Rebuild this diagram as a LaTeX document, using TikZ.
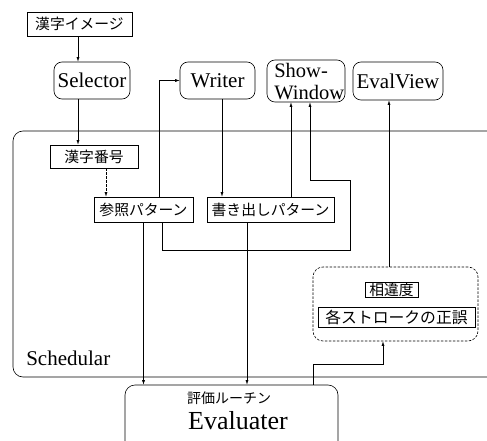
\documentclass[tikz,border=0pt]{standalone}
\usepackage{fontspec}
\setmainfont{Liberation Serif}
\newfontfamily\jp{Noto Sans CJK JP}
\usetikzlibrary{arrows.meta,calc}
\begin{document}
\begin{tikzpicture}[x=1pt,y=-1pt,line width=0.6pt,
  jbox/.style={draw, rectangle, inner sep=0pt, font=\jp\fontsize{14.8}{15}\selectfont},
  rbox/.style={draw, rounded corners=8pt, inner sep=0pt, font=\fontsize{21}{22}\selectfont},
  arr/.style={-{Latex[length=4.5pt,width=3pt]}},
  dashline/.style={dash pattern=on 2.5pt off 1.5pt}]
\clip (0,0) rectangle (487,441);
% nodes
\node[jbox, minimum width=105pt, minimum height=24pt] (img) at (79.5,24) {漢字イメージ};
\node[rbox, minimum width=76pt, minimum height=37pt] (sel) at (92,80.5) {Selector};
\node[rbox, minimum width=75pt, minimum height=37pt] (wri) at (217.5,80.5) {Writer};
\node[rbox, minimum width=78pt, minimum height=42pt] (show) at (306,81) {};
\node[anchor=north west, align=left, inner sep=0pt, font=\fontsize{20.5}{22}\selectfont] (showtxt) at (274,63) {Show-\\Window};
\node[rbox, minimum width=90pt, minimum height=38pt] (ev) at (398,81) {EvalView};
\node[draw, rounded corners=10pt, minimum width=520pt, minimum height=246pt, inner sep=0pt] (sched) at (273,254) {};
\node[anchor=west, inner sep=0pt, font=\fontsize{21}{22}\selectfont] (schedtxt) at (26,358) {Schedular};
\node[jbox, minimum width=88pt, minimum height=23pt] (num) at (94,156.5) {漢字番号};
\node[jbox, minimum width=99pt, minimum height=25pt] (ref) at (143.5,209.5) {参照パターン};
\node[jbox, minimum width=127pt, minimum height=25pt] (out) at (270.5,209.5) {書き出しパターン};
\node[draw, dashline, rounded corners=10pt, minimum width=165pt, minimum height=74pt, inner sep=0pt] (dbox) at (395.5,304) {};
\node[jbox, minimum width=53pt, minimum height=15pt] (diff) at (391.5,289.5) {相違度};
\node[jbox, minimum width=157pt, minimum height=20pt, font=\jp\fontsize{15.8}{16}\selectfont] (err) at (396.5,317) {各ストロークの正誤};
\node[draw, rounded corners=10pt, minimum width=213pt, minimum height=100pt, inner sep=0pt] (eval) at (231.5,435) {};
\node[inner sep=0pt, font=\jp\fontsize{14}{15}\selectfont] (evj) at (229,398) {評価ルーチン};
\node[inner sep=0pt, font=\fontsize{26}{28}\selectfont] (evt) at (238,421) {Evaluater};
% connectors
\draw[arr] ([xshift=-1.5pt]img.south) -- ([xshift=-1.5pt]img.south |- sel.north);
\draw[arr] ([xshift=-14pt]sel.south) -- ([xshift=-14pt]sel.south |- num.north);
\draw[arr, dashline] ([xshift=12pt]num.south) -- ([xshift=12pt]num.south |- ref.north);
\draw[arr] ([xshift=15.5pt]ref.north) |- (wri.west);
\draw[arr] ([xshift=4.5pt]wri.south) -- ([xshift=4.5pt]wri.south |- out.north);
\draw[arr] ([xshift=20.5pt]out.north) -- ([xshift=20.5pt]out.north |- show.south);
\draw[arr] ([xshift=18.5pt]ref.south) -- ++(0,28) -- ++(188,0) -- ++(0,-70) -| ([xshift=4pt]show.south);
\draw[arr] (ref.south) -- (ref.south |- eval.north);
\draw[arr] ([xshift=-23.5pt]out.south) -- ([xshift=-23.5pt]out.south |- eval.north);
\draw[arr] ([xshift=-6.5pt]dbox.north) -- ([xshift=-6.5pt]dbox.north |- ev.south);
\draw[arr] ([xshift=81.5pt]eval.north) -- ++(0,-20) -| ([xshift=-12.5pt]dbox.south);
\end{tikzpicture}
\end{document}
